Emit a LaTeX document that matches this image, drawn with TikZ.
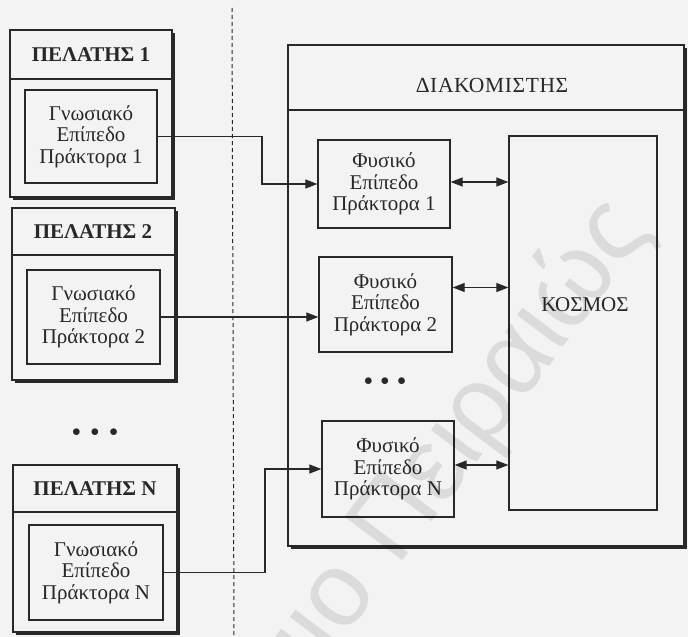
\documentclass[tikz,border=0pt]{standalone}
\usepackage{fontspec}
\setmainfont{Liberation Serif}
\newfontfamily\markfont{Liberation Sans}
\usetikzlibrary{arrows.meta,shadows,calc}

\definecolor{paper}{RGB}{243,243,243}
\definecolor{ink}{RGB}{40,40,40}
\definecolor{markgray}{RGB}{230,230,230}

\tikzset{
  box/.style={draw=ink, line width=1.3pt, fill=paper, inner sep=0pt},
  shadowbox/.style={box, drop shadow={shadow xshift=2.6pt, shadow yshift=-2.6pt, fill=ink, opacity=1}},
  label/.style={font=\fontsize{21}{21.5}\selectfont, align=center, text=ink},
  head/.style={font=\fontsize{21}{21.5}\selectfont\bfseries, text=ink},
  link/.style={draw=ink, line width=1.2pt},
  tip/.style={-{Triangle[length=12pt,width=9pt]}},
  both/.style={{Triangle[length=12pt,width=9pt]}-{Triangle[length=12pt,width=9pt]}},
  divider/.style={draw=ink, line width=1.2pt},
  dots/.style={font=\fontsize{18}{21.5}\selectfont, text=ink},
}

\begin{document}
\begin{tikzpicture}[x=1pt,y=-1pt]
  % page and background
  \useasboundingbox (0,0) rectangle (688,637);
  \fill[paper] (0,0) rectangle (688,637);

  % separator between clients and server
  \coordinate (sepTop) at (232,8);
  \coordinate (sepBot) at (234,637);
  \draw[ink, line width=1pt, dash pattern=on 4pt off 3pt] (sepTop) -- (sepBot);

  % ---------- clients ----------
  % client 1
  \path[shadowbox] (10,30) rectangle (172,197);
  \coordinate (c1a) at (10,79); \coordinate (c1b) at (172,79);
  \draw[divider] (c1a) -- (c1b);
  \node[head] (h1) at (91,55) {ΠΕΛΑΤΗΣ 1};
  \node[box, minimum width=132pt, minimum height=93pt, label] (g1) at (91,136.5)
       {Γνωσιακό\\Επίπεδο\\Πράκτορα 1};

  % client 2
  \path[shadowbox] (12,208) rectangle (175,380);
  \coordinate (c2a) at (12,255); \coordinate (c2b) at (175,255);
  \draw[divider] (c2a) -- (c2b);
  \node[head] (h2) at (93,232) {ΠΕΛΑΤΗΣ 2};
  \node[box, minimum width=133pt, minimum height=94pt, label] (g2) at (93.5,317)
       {Γνωσιακό\\Επίπεδο\\Πράκτορα 2};

  \node[dots] (ldots) at (95,433) {$\bullet$\hspace{10pt}$\bullet$\hspace{10pt}$\bullet$};

  % client N
  \path[shadowbox] (13,465) rectangle (177,632);
  \coordinate (c3a) at (13,512); \coordinate (c3b) at (177,512);
  \draw[divider] (c3a) -- (c3b);
  \node[head] (h3) at (95,489) {ΠΕΛΑΤΗΣ Ν};
  \node[box, minimum width=134pt, minimum height=95pt, label] (g3) at (96,572.5)
       {Γνωσιακό\\Επίπεδο\\Πράκτορα Ν};

  % ---------- server ----------
  \path[shadowbox] (288,45) rectangle (684,546);
  \coordinate (sa) at (288,110); \coordinate (sb) at (684,110);
  \draw[divider] (sa) -- (sb);
  \node[text=ink, font=\fontsize{21.5}{22}\selectfont\addfontfeature{LetterSpace=3}] (title) at (492,85) {ΔΙΑΚΟΜΙΣΤΗΣ};

  \node[box, minimum width=132pt, minimum height=88pt, label] (p1) at (384,184)
       {Φυσικό\\Επίπεδο\\Πράκτορα 1};
  \node[box, minimum width=133pt, minimum height=95pt, label] (p2) at (385.5,304.5)
       {Φυσικό\\Επίπεδο\\Πράκτορα 2};
  \node[dots] (rdots) at (385,382) {$\bullet$\hspace{8pt}$\bullet$\hspace{8pt}$\bullet$};
  \node[box, minimum width=132pt, minimum height=96pt, label] (p3) at (388,469)
       {Φυσικό\\Επίπεδο\\Πράκτορα Ν};

  \node[box, minimum width=148pt, minimum height=374pt] (world) at (583,323) {};
  \node[label] (worldtxt) at (585,305) {ΚΟΣΜΟΣ};

  % ---------- connectors ----------
  \coordinate (j1) at (262,136.5);
  \draw[link, tip] (g1.east) -- (j1) |- (p1.west);
  \draw[link, tip] (g2.east) -- (g2.east -| p2.west);
  \coordinate (j3) at (265,572.5);
  \draw[link, tip] (g3.east) -- (j3) |- (p3.west);

  \draw[link, both] ($(p1.east)+(0,-2)$) -- ($(p1.east -| world.west)+(0,-2)$);
  \draw[link, both] ($(p2.east)+(0,-17)$) -- ($(p2.east -| world.west)+(0,-17)$);
  \draw[link, both] ($(p3.east)+(0,-4)$) -- ($(p3.east -| world.west)+(0,-4)$);

  % faint watermark text laid over everything
  \begin{scope}[blend mode=multiply]
    \clip (0,0) rectangle (688,637);
    \node[rotate=53, anchor=base east, text=markgray, inner sep=0pt,
          font=\markfont\fontsize{105}{105}\selectfont] (wm) at (652,230) {Πανεπιστήμιο Πειραιώς};
  \end{scope}
\end{tikzpicture}
\end{document}
